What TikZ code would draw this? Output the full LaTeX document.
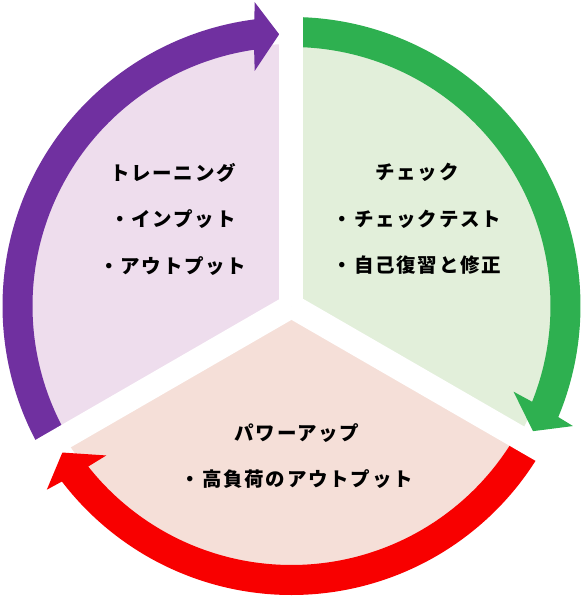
\documentclass[tikz,border=0pt]{standalone}
\usepackage{fontspec}
\setmainfont{Noto Sans CJK JP}[LetterSpace=9]

\definecolor{trainfill}{RGB}{238,221,237}
\definecolor{checkfill}{RGB}{226,239,218}
\definecolor{powerfill}{RGB}{245,223,216}
\definecolor{trainarrow}{RGB}{112,48,160}
\definecolor{checkarrow}{RGB}{46,176,80}
\definecolor{powerarrow}{RGB}{248,0,0}

\newlength\ringout
\newlength\ringin
\setlength\ringout{289pt}
\setlength\ringin{259pt}

\begin{document}
\begin{tikzpicture}[
    phasetext/.style={font=\fontsize{19.5pt}{46.5pt}\selectfont\bfseries, align=center}]

    \useasboundingbox (-291.5pt,-294pt) rectangle (292.5pt,306pt);
	\coordinate (centre) at (0,0);

    % sectors
    \foreach \a/\col in {90/trainfill, -30/checkfill, 210/powerfill}
        \fill[\col] (centre) -- (\a:262pt) arc[start angle=\a, delta angle=120, radius=262pt] -- cycle;

    % arrows, clockwise
    \foreach \a/\col in {210/trainarrow, 90/checkarrow, -30/powerarrow}{
        \pgfmathsetmacro\tip{\a-120+2.6}
        \fill[\col] (\a:\ringout) arc[start angle=\a, end angle=\tip+4.8, radius=\ringout]
            -- (\tip+4.3:306pt) -- (\tip:272pt) -- (\tip+6.3:238pt) -- (\tip+5.7:\ringin)
            arc[start angle=\tip+5.7, end angle=\a, radius=\ringin] -- cycle;
    }

    % gaps
    \foreach \a in {90,210,330} \draw[white, line width=24pt] (centre) -- (\a:330pt);

	\node[phasetext] (training) at (-118.5pt,87pt) {トレーニング\\・インプット\\・アウトプット};
		% left
	\node[phasetext] (check) at (125.5pt,87pt) {チェック\\・チェックテスト\\・自己復習と修正};
		% right
	\node[phasetext] (powerup) at (5.5pt,-150pt) {パワーアップ\\・高負荷のアウトプット};
\end{tikzpicture}
\end{document}
